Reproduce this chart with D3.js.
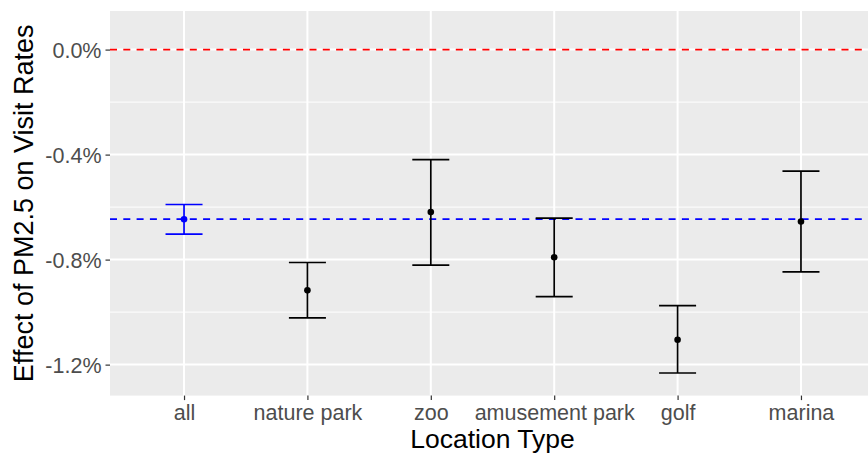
<!DOCTYPE html>
<html>
<head>
<meta charset="utf-8">
<script src="https://cdn.jsdelivr.net/npm/d3@7"></script>
<style>
  html, body { margin: 0; padding: 0; background: #fff; }
  svg { display: block; font-family: "Liberation Sans", Arial, sans-serif; }
</style>
</head>
<body>
<svg id="chart" width="868" height="454"></svg>
<script>
// ---- data (values in percent) ----
const categories = ["all", "nature park", "zoo", "amusement park", "golf", "marina"];
const estimates  = [-0.646, -0.917, -0.619, -0.791, -1.105, -0.655];
const lowerCI    = [-0.703, -1.022, -0.821, -0.941, -1.232, -0.847];
const upperCI    = [-0.590, -0.811, -0.419, -0.642, -0.975, -0.463];
const highlight  = [true, false, false, false, false, false];
const yTicks     = [0.0, -0.4, -0.8, -1.2];
const yMinorTicks = [-0.2, -0.6, -1.0];
const zeroLine   = 0.0;
const overallLine = -0.646;
const xTitle = "Location Type";
const yTitle = "Effect of PM2.5 on Visit Rates";

// ---- layout ----
const W = 868, H = 454;
const panel = { left: 110, top: 11, right: 875, bottom: 395.6 };

const svg = d3.select("#chart");

const x = d3.scalePoint()
  .domain(categories)
  .range([panel.left, panel.right])
  .padding(0.6);

const y = d3.scaleLinear()
  .domain([-1.318, 0.147])
  .range([panel.bottom, panel.top]);

const step = x.step();
const capHalf = 0.15 * step;

// panel background
svg.append("rect")
  .attr("x", panel.left).attr("y", panel.top)
  .attr("width", panel.right - panel.left + 10)
  .attr("height", panel.bottom - panel.top)
  .attr("fill", "#EBEBEB");

const grid = svg.append("g");
// minor horizontal gridlines
grid.selectAll("line.minor").data(yMinorTicks).join("line")
  .attr("class", "minor")
  .attr("x1", panel.left).attr("x2", W)
  .attr("y1", d => y(d)).attr("y2", d => y(d))
  .attr("stroke", "#fff").attr("stroke-width", 1);
// major horizontal gridlines
grid.selectAll("line.majy").data(yTicks).join("line")
  .attr("class", "majy")
  .attr("x1", panel.left).attr("x2", W)
  .attr("y1", d => y(d)).attr("y2", d => y(d))
  .attr("stroke", "#fff").attr("stroke-width", 2);
// major vertical gridlines
grid.selectAll("line.majx").data(categories).join("line")
  .attr("class", "majx")
  .attr("x1", d => x(d)).attr("x2", d => x(d))
  .attr("y1", panel.top).attr("y2", panel.bottom)
  .attr("stroke", "#fff").attr("stroke-width", 2);

// reference lines
svg.append("line")
  .attr("x1", panel.left).attr("x2", W)
  .attr("y1", y(zeroLine)).attr("y2", y(zeroLine))
  .attr("stroke", "#FF0000").attr("stroke-width", 1.8)
  .attr("stroke-dasharray", "7,6.3");

svg.append("line")
  .attr("x1", panel.left).attr("x2", W)
  .attr("y1", y(overallLine)).attr("y2", y(overallLine))
  .attr("stroke", "#0000FF").attr("stroke-width", 1.8)
  .attr("stroke-dasharray", "7,6.3");

// error bars
const rows = categories.map((c, i) => ({
  cat: c, est: estimates[i], lo: lowerCI[i], hi: upperCI[i],
  color: highlight[i] ? "#0000FF" : "#000000"
}));

const eb = svg.append("g").selectAll("g").data(rows).join("g");
eb.append("line")
  .attr("x1", d => x(d.cat)).attr("x2", d => x(d.cat))
  .attr("y1", d => y(d.lo)).attr("y2", d => y(d.hi))
  .attr("stroke", d => d.color).attr("stroke-width", 1.7);
eb.append("line")
  .attr("x1", d => x(d.cat) - capHalf).attr("x2", d => x(d.cat) + capHalf)
  .attr("y1", d => y(d.hi)).attr("y2", d => y(d.hi))
  .attr("stroke", d => d.color).attr("stroke-width", 1.7);
eb.append("line")
  .attr("x1", d => x(d.cat) - capHalf).attr("x2", d => x(d.cat) + capHalf)
  .attr("y1", d => y(d.lo)).attr("y2", d => y(d.lo))
  .attr("stroke", d => d.color).attr("stroke-width", 1.7);
eb.append("circle")
  .attr("cx", d => x(d.cat)).attr("cy", d => y(d.est))
  .attr("r", 3.3)
  .attr("fill", d => d.color);

// axes
const yAxis = d3.axisLeft(y)
  .tickValues(yTicks)
  .tickFormat(v => v.toFixed(1) + "%")
  .tickSize(4.5)
  .tickPadding(4);
const gy = svg.append("g")
  .attr("transform", `translate(${panel.left},0)`)
  .call(yAxis);
gy.select(".domain").remove();
gy.selectAll(".tick line").attr("stroke", "#333333").attr("stroke-width", 1.2);
gy.selectAll(".tick text")
  .attr("fill", "#4D4D4D")
  .style("font-size", "21.5px")
  .attr("dy", "0.36em");

const xAxis = d3.axisBottom(x)
  .tickSize(4.5)
  .tickPadding(5);
const gx = svg.append("g")
  .attr("transform", `translate(0,${panel.bottom})`)
  .call(xAxis);
gx.select(".domain").remove();
gx.selectAll(".tick line").attr("stroke", "#333333").attr("stroke-width", 1.2);
gx.selectAll(".tick text")
  .attr("fill", "#4D4D4D")
  .style("font-size", "21.5px")
  .attr("dy", "0.71em");

// axis titles
svg.append("text")
  .attr("x", (panel.left + panel.right) / 2)
  .attr("y", 448)
  .attr("text-anchor", "middle")
  .style("font-size", "26.5px")
  .attr("fill", "#000")
  .text(xTitle);

svg.append("text")
  .attr("transform", `translate(33,${(panel.top + panel.bottom) / 2}) rotate(-90)`)
  .attr("text-anchor", "middle")
  .style("font-size", "27px")
  .attr("fill", "#000")
  .text(yTitle);
</script>
</body>
</html>
